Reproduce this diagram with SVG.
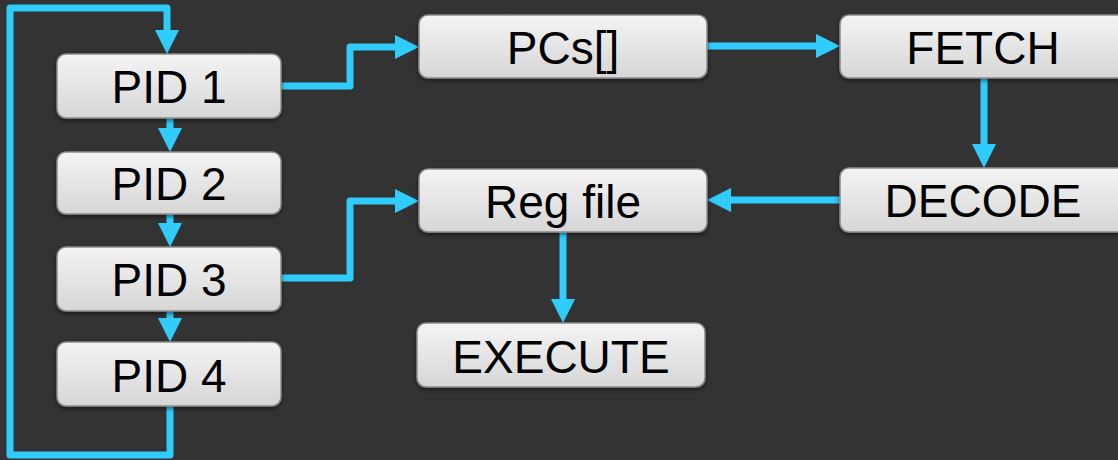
<svg xmlns="http://www.w3.org/2000/svg" width="1118" height="460" viewBox="0 0 1118 460">
  <defs>
    <linearGradient id="boxFill" x1="0" y1="0" x2="0" y2="1">
      <stop offset="0" stop-color="#f4f4f4"/>
      <stop offset="1" stop-color="#d6d6d6"/>
    </linearGradient>
    <filter id="shadow" x="-10%" y="-20%" width="120%" height="150%">
      <feDropShadow dx="0" dy="2" stdDeviation="2" flood-color="#000" flood-opacity="0.5"/>
    </filter>
    <marker id="arrow" markerUnits="userSpaceOnUse" viewBox="0 0 24 24" markerWidth="24" markerHeight="24" refX="0" refY="12" orient="auto">
      <path d="M0,0 L24,12 L0,24 Z" fill="#30ccfc"/>
    </marker>
  </defs>
  <style>
    .box { fill: url(#boxFill); stroke: #8a8a8a; stroke-width: 1.5; filter: url(#shadow); }
    .label { font-family: "Liberation Sans", Arial, sans-serif; font-size: 46px; fill: #000; text-anchor: middle; }
    .wire { fill: none; stroke: #30ccfc; stroke-width: 7; stroke-linejoin: round; }
    .arr { marker-end: url(#arrow); }
  </style>
  <rect width="1118" height="460" fill="#333333"/>

  <g id="connectors">
    <!-- loop from PID 4 back to PID 1 -->
    <path class="wire arr" d="M170,406 V455 H10 V8 H167 V30"/>
    <path class="wire arr" d="M170,118 V128"/>
    <path class="wire arr" d="M170,214 V223"/>
    <path class="wire arr" d="M170,311 V318"/>
    <path class="wire arr" d="M281,86 H350 V47 H395"/>
    <path class="wire arr" d="M707,46 H816"/>
    <path class="wire arr" d="M984,78 V144"/>
    <path class="wire arr" d="M840,200 H731"/>
    <path class="wire arr" d="M281,278 H350 V201 H395"/>
    <path class="wire arr" d="M563,232 V299"/>
  </g>

  <g id="pid1">
    <rect class="box" x="57" y="54" width="224" height="64" rx="9"/>
    <text class="label" x="169" y="103">PID 1</text>
  </g>
  <g id="pid2">
    <rect class="box" x="57" y="152" width="224" height="62" rx="9"/>
    <text class="label" x="169" y="200">PID 2</text>
  </g>
  <g id="pid3">
    <rect class="box" x="57" y="247" width="224" height="64" rx="9"/>
    <text class="label" x="169" y="296">PID 3</text>
  </g>
  <g id="pid4">
    <rect class="box" x="57" y="342" width="224" height="64" rx="9"/>
    <text class="label" x="169" y="392">PID 4</text>
  </g>
  <g id="pcs">
    <rect class="box" x="419" y="15" width="288" height="63" rx="9"/>
    <text class="label" x="563" y="64">PCs[]</text>
  </g>
  <g id="fetch">
    <rect class="box" x="840" y="15" width="288" height="63" rx="9"/>
    <text class="label" x="983" y="64">FETCH</text>
  </g>
  <g id="decode">
    <rect class="box" x="840" y="168" width="288" height="64" rx="9"/>
    <text class="label" x="983" y="217">DECODE</text>
  </g>
  <g id="regfile">
    <rect class="box" x="419" y="169" width="288" height="63" rx="9"/>
    <text class="label" x="563" y="218">Reg file</text>
  </g>
  <g id="execute">
    <rect class="box" x="417" y="323" width="288" height="64" rx="9"/>
    <text class="label" x="561" y="373">EXECUTE</text>
  </g>
</svg>
